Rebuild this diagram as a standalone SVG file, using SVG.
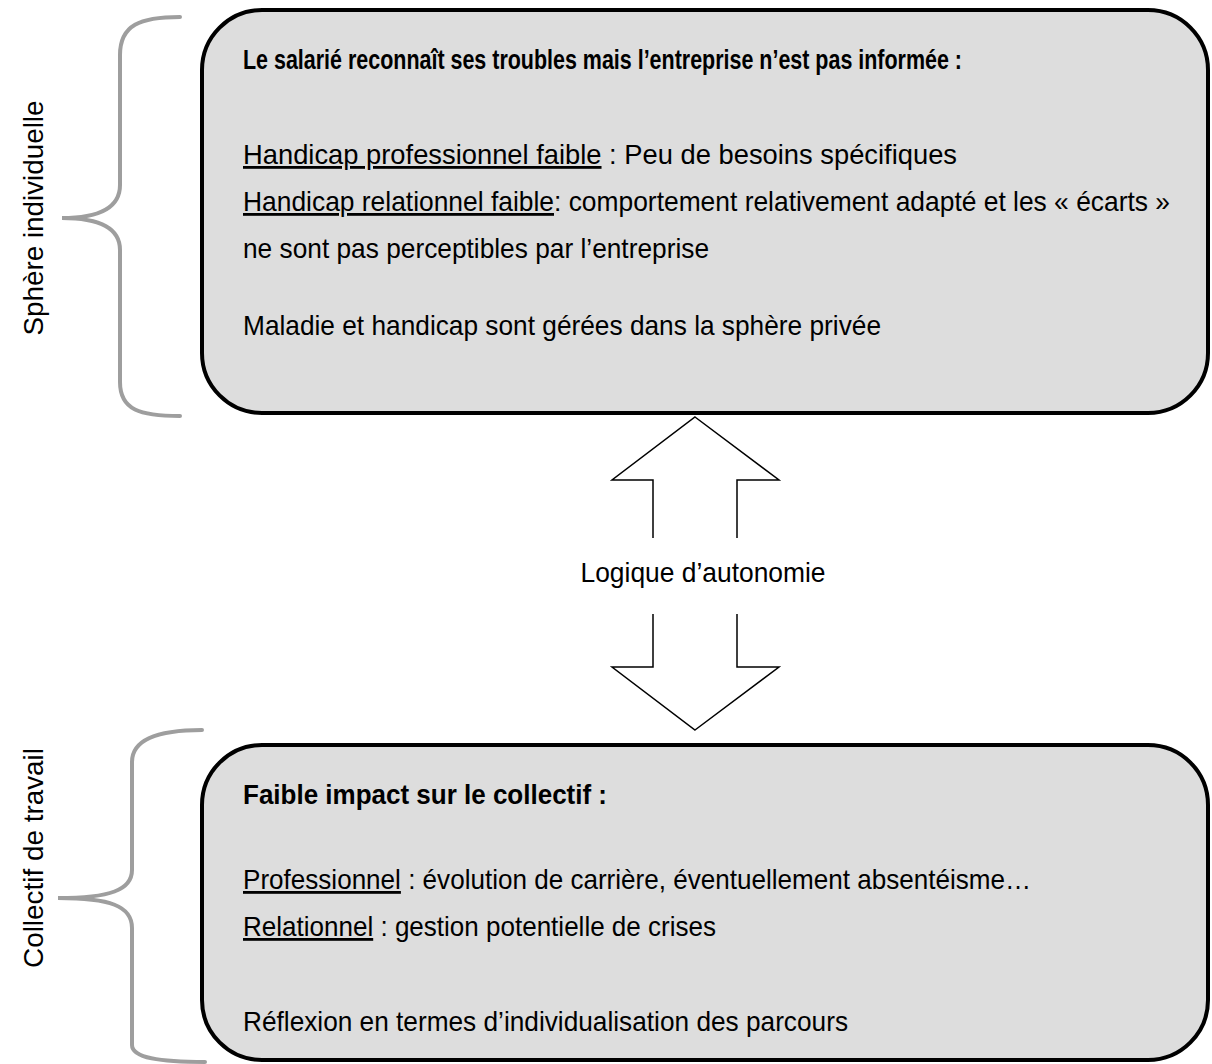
<svg xmlns="http://www.w3.org/2000/svg" width="1212" height="1064" viewBox="0 0 1212 1064">
<style>
.box{fill:#DDDDDD;stroke:#000;stroke-width:4}
.brace{fill:none;stroke:#9E9E9E;stroke-width:4;stroke-linecap:round}
.t{font-family:"Liberation Sans",Arial,sans-serif;font-size:28px;fill:#000}
.b{font-weight:bold}
.arr{fill:#fff;stroke:#000;stroke-width:1.5}
</style>
<rect width="1212" height="1064" fill="#fff"/>
<g id="brace-top">
<path class="brace" d="M180,17 C140,17 120,25 120,55 L120,185 C120,208 100,218 62,218 C100,218 120,228 120,250 L120,382 C120,410 140,416 180,416"/>
<text class="t" transform="translate(43,218) rotate(-90)" text-anchor="middle" textLength="235" lengthAdjust="spacingAndGlyphs">Sphère individuelle</text>
</g>
<g id="brace-bottom">
<path class="brace" d="M202,730 C160,730 132,738 132,762 L132,870 C132,890 110,898 58,898 C110,898 132,906 132,928 L132,1045 C132,1058 160,1062 205,1062"/>
<text class="t" transform="translate(43,858) rotate(-90)" text-anchor="middle" textLength="220" lengthAdjust="spacingAndGlyphs">Collectif de travail</text>
</g>
<g id="node-top">
<rect class="box" x="202" y="10" width="1006" height="403" rx="60" ry="60"/>
<text class="t b" x="243" y="69" textLength="719" lengthAdjust="spacingAndGlyphs">Le salarié reconnaît ses troubles mais l’entreprise n’est pas informée :</text>
<text class="t" x="243" y="164" textLength="714" lengthAdjust="spacingAndGlyphs"><tspan text-decoration="underline">Handicap professionnel faible</tspan> : Peu de besoins spécifiques</text>
<text class="t" x="243" y="211" textLength="927" lengthAdjust="spacingAndGlyphs"><tspan text-decoration="underline">Handicap relationnel faible</tspan>: comportement relativement adapté et les « écarts »</text>
<text class="t" x="243" y="258" textLength="466" lengthAdjust="spacingAndGlyphs">ne sont pas perceptibles par l’entreprise</text>
<text class="t" x="243" y="335" textLength="638" lengthAdjust="spacingAndGlyphs">Maladie et handicap sont gérées dans la sphère privée</text>
</g>
<g id="connectors">
<polygon class="arr" points="695,417 779,480 737,480 737,539 653,539 653,480 612,480"/>
<rect x="640" y="538" width="110" height="4" fill="#fff"/>
<polygon class="arr" points="695,730 779,667 737,667 737,613 653,613 653,667 612,667"/>
<rect x="640" y="610" width="110" height="4" fill="#fff"/>
<text class="t" x="703" y="582" text-anchor="middle" textLength="245" lengthAdjust="spacingAndGlyphs">Logique d’autonomie</text>
</g>
<g id="node-bottom">
<rect class="box" x="202" y="745" width="1006" height="315" rx="60" ry="60"/>
<text class="t b" x="243" y="804" textLength="364" lengthAdjust="spacingAndGlyphs">Faible impact sur le collectif :</text>
<text class="t" x="243" y="889" textLength="788" lengthAdjust="spacingAndGlyphs"><tspan text-decoration="underline">Professionnel</tspan> : évolution de carrière, éventuellement absentéisme…</text>
<text class="t" x="243" y="936" textLength="473" lengthAdjust="spacingAndGlyphs"><tspan text-decoration="underline">Relationnel</tspan> : gestion potentielle de crises</text>
<text class="t" x="243" y="1031" textLength="605" lengthAdjust="spacingAndGlyphs">Réflexion en termes d’individualisation des parcours</text>
</g>
</svg>
